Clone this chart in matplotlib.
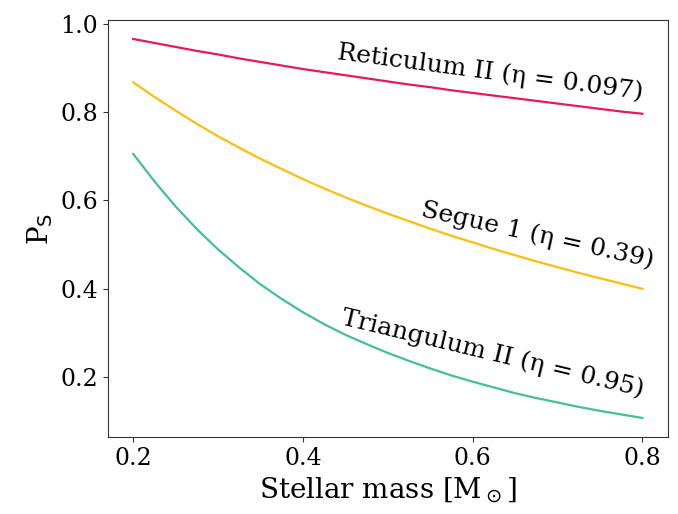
import matplotlib
matplotlib.use("Agg")
import matplotlib.pyplot as plt

plt.rcParams['font.family'] = ['DejaVu Serif']
plt.rcParams['mathtext.fontset'] = 'dejavusans'

# stellar mass grid [M_sun]
mass = [0.200, 0.225, 0.250, 0.275, 0.300, 0.325, 0.350, 0.375, 0.400,
        0.425, 0.450, 0.475, 0.500, 0.525, 0.550, 0.575, 0.600, 0.625,
        0.650, 0.675, 0.700, 0.725, 0.750, 0.775, 0.800]

# survival probability
p_ret = [0.965, 0.956, 0.947, 0.938, 0.930, 0.921, 0.913, 0.905, 0.897,
         0.890, 0.883, 0.876, 0.869, 0.862, 0.856, 0.849, 0.843, 0.837,
         0.831, 0.825, 0.819, 0.813, 0.807, 0.801, 0.796]
p_seg = [0.867, 0.834, 0.803, 0.773, 0.745, 0.719, 0.694, 0.671, 0.648,
         0.627, 0.607, 0.588, 0.570, 0.553, 0.536, 0.520, 0.505, 0.490,
         0.476, 0.462, 0.449, 0.436, 0.424, 0.412, 0.400]
p_tri = [0.705, 0.643, 0.586, 0.535, 0.489, 0.448, 0.410, 0.377, 0.347,
         0.320, 0.296, 0.275, 0.255, 0.237, 0.220, 0.204, 0.190, 0.177,
         0.164, 0.153, 0.143, 0.133, 0.124, 0.116, 0.108]

names = ["Reticulum II", "Segue 1", "Triangulum II"]
etas = ["0.097", "0.39", "0.95"]
colors = ["#e5195c", "#fdbf0b", "#43c094"]

fig = plt.figure(figsize=(6.78, 5.14), dpi=100)
ax = fig.add_axes([0.159, 0.150, 0.826, 0.811])

for p, c in zip([p_ret, p_seg, p_tri], colors):
    ax.plot(mass, p, color=c, lw=1.6)

# curve labels, placed by hand
label_pos = [(0.621, 0.889, -7.5), (0.676, 0.521, -12.5), (0.623, 0.253, -13.5)]
for name, eta, (x, y, rot) in zip(names, etas, label_pos):
    ax.text(x, y, name + " (η = " + eta + ")", fontsize=18,
            rotation=rot, rotation_mode='anchor', ha='center', va='center')

ax.set_xticks([0.2, 0.4, 0.6, 0.8])
ax.set_yticks([0.2, 0.4, 0.6, 0.8, 1.0])
ax.tick_params(labelsize=17, color='#333333')
for s in ax.spines.values():
    s.set_color('#333333')

ax.set_xlabel(r"Stellar mass [M$_\odot$]", fontsize=20)
ax.set_ylabel(r"P$_\mathrm{S}$", fontsize=20)

fig.savefig("out.png", dpi=100)
